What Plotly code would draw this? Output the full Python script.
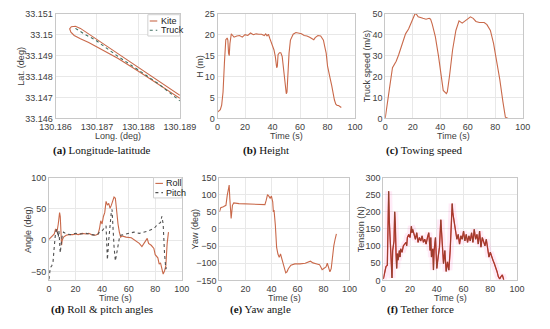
import plotly.graph_objects as go

# ---------------- data ----------------
kite_lon = [130.18900, 130.18850, 130.18800, 130.18750, 130.18710, 130.18690, 130.18675,
            130.18660, 130.18648, 130.18638, 130.18634, 130.18637, 130.18645, 130.18660,
            130.18680, 130.18710, 130.18750, 130.18800, 130.18850, 130.18900]
kite_lat = [33.14710, 33.14777, 33.14843, 33.14909, 33.14962, 33.14988, 33.15012,
            33.15030, 33.15040, 33.15038, 33.15028, 33.15012, 33.14996, 33.14980,
            33.14963, 33.14930, 33.14887, 33.14825, 33.14760, 33.14696]
truck_lon = [130.18648, 130.18658, 130.18672, 130.18695, 130.18750, 130.18800, 130.18850, 130.18900]
truck_lat = [33.15030, 33.15016, 33.15000, 33.14976, 33.14897, 33.14831, 33.14763, 33.14684]

lon_ticks = [130.186, 130.187, 130.188, 130.189]
lon_labels = ["130.186", "130.187", "130.188", "130.189"]
lat_ticks = [33.146, 33.147, 33.148, 33.149, 33.150, 33.151]
lat_labels = ["33.146", "33.147", "33.148", "33.149", "33.15", "33.151"]

h_t = [0, 2, 3, 4, 5, 5.5, 6, 7, 7.5, 8, 8.5, 9, 10, 11, 12, 14, 16, 18, 20, 22, 24, 26, 28, 30,
       32, 34, 35, 36, 37, 38, 39, 40, 41, 42, 43, 43.5, 44, 45, 46, 47, 48, 49, 50, 50.5, 51,
       52, 53, 55, 57, 59, 61, 63, 65, 67, 69, 70, 71, 73, 75, 77, 78, 79, 80, 81, 82, 83, 84,
       85, 86, 87, 88, 89, 90]
h_val = [1.5, 2.1, 3.2, 6.3, 13.3, 17.9, 18.8, 19.2, 18.7, 15.6, 15.0, 17.9, 20.2, 19.8, 19.4,
         19.7, 19.8, 19.4, 20.0, 19.8, 20.4, 20.0, 20.2, 20.1, 20.1, 19.8, 20.2, 19.7, 20.1, 19.1,
         18.3, 17.1, 16.4, 14.8, 12.1, 12.5, 15.2, 15.7, 15.7, 14.8, 11.7, 8.6, 5.9, 6.3, 10.2,
         15.6, 18.7, 20.1, 20.5, 20.4, 20.2, 19.8, 19.7, 19.4, 19.1, 18.8, 19.3, 19.8, 19.7,
         18.7, 17.1, 15.6, 12.5, 10.6, 9.4, 7.9, 5.9, 4.4, 3.4, 3.1, 3.1, 2.8, 2.6]

v_t = [0, 1.5, 3.4, 5.3, 8, 9.8, 12.6, 14.8, 17, 19, 20.5, 21.7, 22.8, 24, 27.4, 29.7, 32, 33,
       34.2, 36.5, 38.8, 41, 42.2, 44.5, 45.2, 46.8, 49, 51.4, 53.7, 56, 58, 60.5, 62, 64, 66,
       68.5, 72, 74, 76.5, 78.8, 81, 83.3, 85.6, 87.4, 89.5]
v_val = [0, 8, 15.7, 24.2, 27.3, 30.4, 35.8, 40.4, 42.7, 45.8, 48.9, 50, 49.7, 48.5, 47.8, 47.4,
         47.8, 47.4, 45, 38.9, 29.6, 20.4, 13.4, 11.9, 12.7, 20.4, 32.7, 42, 46.6, 45.5, 46.6,
         47.8, 48.5, 47.8, 46.3, 45.8, 45.8, 44.8, 42, 35.8, 28.1, 18.8, 8, 0.6, 0]

roll_t = [0, 2, 4, 5, 6, 7, 8, 8.5, 9, 9.5, 10, 11, 13, 15, 18, 20, 22, 25, 28, 30, 32, 35, 37,
          38, 39, 40, 41, 42, 43, 44, 45, 46, 47, 48, 49, 50, 51, 52, 53, 54, 55, 58, 62, 65, 68,
          70, 72, 74, 75, 77, 79, 80, 82, 83, 84, 85, 86, 87, 88, 89, 90]
roll_val = [1.5, 5, 10, 18, 13, 26, 44, 38, 5, -8, 0, 5, 8, 9, 9, 10, 9, 11, 10, 11, 9, 8, 10,
            18, 31, 26, 38, 44, 62, 56, 59, 51, 56, 64, 69, 67, 41, 26, 13, 5, 7, 5, 4, 0, -5,
            -10, -3, 3, -5, -8, -13, -23, -28, -38, -36, -46, -54, -49, -41, -5, 13]
pitch_t = [0, 1, 2, 3, 4, 5, 6, 7, 7.5, 8, 8.5, 9, 10, 11, 13, 16, 20, 24, 28, 32, 35, 37, 38,
           40, 42, 43, 43.5, 44, 45, 46, 47, 47.5, 48, 49, 50, 51, 52, 53, 54, 56, 60, 64, 68,
           72, 75, 78, 80, 82, 84, 85, 86, 87, 88, 89]
pitch_val = [-62, -44, -41, -36, -10, 13, 18, 5, 15, -15, -20, -10, 8, 13, 10, 9, 11, 10, 11, 9,
             8, 10, 13, 15, 21, 23, -5, -31, 0, 26, 46, 49, 26, -10, -33, -20, -5, 3, 8, 9, 11,
             13, 11, 13, 15, 18, 21, 26, 28, 38, 26, -20, -46, -41]

yaw_t = [0, 1, 3, 5, 6, 7, 7.5, 8, 9, 10, 11, 15, 20, 25, 30, 35, 36, 37, 38, 39, 40, 41, 41.5,
         42, 43, 44, 45, 46, 47, 48, 49, 50, 51, 52, 53, 55, 58, 62, 66, 70, 72, 75, 77, 78, 79,
         80, 82, 83, 84, 85, 86, 87, 88, 89, 90]
yaw_val = [50, 62, 65, 69, 98, 126, 128, 88, 31, 69, 76, 74, 73, 72, 70, 71, 84, 100, 96, 90, 96,
           79, 50, 55, 12, -54, -73, -83, -73, -87, -97, -111, -128, -125, -116, -106, -102,
           -102, -100, -94, -99, -102, -104, -111, -119, -116, -111, -100, -111, -125, -116, -73,
           -49, -30, -14]

ten_t = [0, 1, 2, 3, 3.5, 4, 4.5, 5, 5.5, 6, 6.5, 7, 7.5, 8, 8.5, 9, 9.5, 10, 10.5, 11, 12,
         12.5, 13, 14, 15, 16, 17, 17.5, 18, 19, 20, 21, 21.5, 22, 23, 24, 25, 26, 27, 28, 29,
         30, 31, 32, 33, 34, 35, 35.5, 36, 37, 37.5, 38, 39, 40, 41, 42, 43, 44, 45, 46, 47, 48,
         49, 50, 51, 51.5, 52, 53, 54, 55, 56, 57, 58, 59, 60, 61, 62, 63, 64, 65, 66, 67, 68,
         69, 70, 71, 72, 73, 74, 75, 76, 77, 78, 79, 80, 81, 82, 83, 84, 85, 86, 87, 88, 89, 90]
ten_val = [4, 26, 40, 44, 115, 260, 172, 125, 68, 40, 7, 87, 106, 115, 200, 163, 78, 35, 78, 59,
           87, 68, 92, 82, 101, 106, 111, 101, 125, 134, 125, 158, 139, 149, 130, 120, 139, 111,
           125, 115, 130, 111, 120, 106, 125, 139, 87, 125, 68, 92, 30, 87, 125, 35, 68, 97, 177,
           115, 49, 87, 26, 54, 30, 87, 200, 224, 196, 172, 153, 120, 134, 106, 130, 120, 144,
           115, 134, 111, 130, 115, 139, 111, 149, 120, 134, 106, 144, 97, 125, 115, 101, 120,
           92, 68, 82, 68, 59, 49, 40, 26, 11, 4, 11, 16, 2]

time_ticks = [0, 20, 40, 60, 80, 100]

# ---------------- styling ----------------
W, H = 550, 329
LINE = "#c9694a"
PITCH = "#505050"
TRUCK = "#3f6f60"
FONT = "Liberation Sans"
TICKC = "#404040"
GRID = "#e8e8e8"
FRAME = "#c8c8c8"

def px_dom(a, b):
    return [a / W, b / W]

def py_dom(top, bottom):
    return [1 - bottom / H, 1 - top / H]

panels = {
    1: dict(x=px_dom(42, 174), y=py_dom(9, 117)),
    2: dict(x=px_dom(214, 360), y=py_dom(9, 117)),
    3: dict(x=px_dom(392, 538), y=py_dom(9, 117)),
    4: dict(x=px_dom(35, 176), y=py_dom(178, 284)),
    5: dict(x=px_dom(216, 354), y=py_dom(178, 284)),
    6: dict(x=px_dom(390, 532), y=py_dom(178, 284)),
}

fig = go.Figure()

def ax(i):
    return ("x" if i == 1 else f"x{i}"), ("y" if i == 1 else f"y{i}")

fig.add_trace(go.Scatter(x=kite_lon, y=kite_lat, mode="lines", name="Kite",
                         line=dict(color=LINE, width=1.1), xaxis="x", yaxis="y"))
fig.add_trace(go.Scatter(x=truck_lon, y=truck_lat, mode="lines", name="Truck",
                         line=dict(color=TRUCK, width=1.1, dash="dot"), xaxis="x", yaxis="y"))
fig.add_trace(go.Scatter(x=h_t, y=h_val, mode="lines",
                         line=dict(color=LINE, width=1.1), xaxis="x2", yaxis="y2"))
fig.add_trace(go.Scatter(x=v_t, y=v_val, mode="lines",
                         line=dict(color=LINE, width=1.1), xaxis="x3", yaxis="y3"))
fig.add_trace(go.Scatter(x=roll_t, y=roll_val, mode="lines", name="Roll",
                         line=dict(color=LINE, width=1.1), xaxis="x4", yaxis="y4"))
fig.add_trace(go.Scatter(x=pitch_t, y=pitch_val, mode="lines", name="Pitch",
                         line=dict(color=PITCH, width=1.1, dash="dot"), xaxis="x4", yaxis="y4"))
fig.add_trace(go.Scatter(x=yaw_t, y=yaw_val, mode="lines",
                         line=dict(color=LINE, width=1.1), xaxis="x5", yaxis="y5"))
fig.add_trace(go.Scatter(x=ten_t, y=ten_val, mode="lines",
                         line=dict(color="rgba(255,120,200,0.15)", width=7), xaxis="x6", yaxis="y6"))
fig.add_trace(go.Scatter(x=ten_t, y=ten_val, mode="lines",
                         line=dict(color="#e02828", width=1.3), xaxis="x6", yaxis="y6"))
fig.add_trace(go.Scatter(x=ten_t, y=ten_val, mode="lines",
                         line=dict(color="#7a4a32", width=0.7), xaxis="x6", yaxis="y6"))

common = dict(showgrid=True, gridcolor=GRID, gridwidth=1, showline=True, linecolor=FRAME,
              linewidth=1, mirror=True, zeroline=False, ticks="",
              tickfont=dict(family=FONT, size=9, color=TICKC))

layout = dict(width=W, height=H, margin=dict(l=0, r=0, t=0, b=0),
              paper_bgcolor="white", plot_bgcolor="white", showlegend=False)

specs = {
    1: dict(xr=[130.186, 130.189], xt=lon_ticks, xl=lon_labels,
            yr=[33.146, 33.151], yt=lat_ticks, yl=lat_labels),
    2: dict(xr=[0, 100], xt=time_ticks, xl=None, yr=[0, 25], yt=[0, 5, 10, 15, 20, 25], yl=None),
    3: dict(xr=[0, 100], xt=time_ticks, xl=None, yr=[0, 50], yt=[0, 10, 20, 30, 40, 50], yl=None),
    4: dict(xr=[0, 100], xt=time_ticks, xl=None, yr=[-64, 100], yt=[-50, 0, 50, 100], yl=None),
    5: dict(xr=[0, 100], xt=time_ticks, xl=None, yr=[-150, 150],
            yt=[-150, -100, -50, 0, 50, 100, 150], yl=None),
    6: dict(xr=[0, 100], xt=time_ticks, xl=None, yr=[0, 300],
            yt=[0, 50, 100, 150, 200, 250, 300], yl=None),
}

for i, s in specs.items():
    xn = "xaxis" if i == 1 else f"xaxis{i}"
    yn = "yaxis" if i == 1 else f"yaxis{i}"
    xa, ya = ax(i)
    xd = dict(common, domain=panels[i]["x"], range=s["xr"], anchor=ya, tickvals=s["xt"])
    yd = dict(common, domain=panels[i]["y"], range=s["yr"], anchor=xa, tickvals=s["yt"])
    if s["xl"]:
        xd["ticktext"] = s["xl"]
    if s["yl"]:
        yd["ticktext"] = s["yl"]
    layout[xn] = xd
    layout[yn] = yd

fig.update_layout(**layout)

# compact legends (box, short line samples, labels) in paper coordinates
legends = [
    dict(box=(140, 10, 174, 32), items=[("Kite", LINE, "solid", 16.5), ("Truck", TRUCK, "dot", 26)]),
    dict(box=(146, 178, 176, 199), items=[("Roll", LINE, "solid", 184), ("Pitch", PITCH, "dot", 193.5)]),
]
for lg in legends:
    x0, y0, x1, y1 = lg["box"]
    fig.add_shape(type="rect", xref="paper", yref="paper", x0=x0 / W, x1=x1 / W,
                  y0=1 - y1 / H, y1=1 - y0 / H, fillcolor="white",
                  line=dict(color="#d0d0d0", width=1), layer="above")
    for name, col, dash, yy in lg["items"]:
        fig.add_shape(type="line", xref="paper", yref="paper", x0=(x0 + 2) / W, x1=(x0 + 10) / W,
                      y0=1 - yy / H, y1=1 - yy / H, line=dict(color=col, width=1.1, dash=dash),
                      layer="above")
        fig.add_annotation(text=name, xref="paper", yref="paper", x=(x0 + 11.5) / W, y=1 - yy / H,
                           xanchor="left", yanchor="middle", showarrow=False,
                           font=dict(family=FONT, size=9, color="#222"))

# axis titles
xtitles = {1: "Long. (deg)", 2: "Time (s)", 3: "Time (s)", 4: "Time (s)", 5: "Time (s)", 6: "Time (s)"}
ytitles = {1: ("Lat. (deg)", 34), 2: ("H (m)", 17), 3: ("Truck speed (m/s)", 18),
           4: ("Angle (deg)", 21), 5: ("Yaw (deg)", 24), 6: ("Tension (N)", 22)}
for i in range(1, 7):
    xa, ya = ax(i)
    fig.add_annotation(text=xtitles[i], xref=f"{xa} domain", yref=f"{ya} domain", x=0.5, y=0,
                       yanchor="middle", yshift=-18, showarrow=False,
                       font=dict(family=FONT, size=9, color=TICKC))
    t, off = ytitles[i]
    fig.add_annotation(text=t, xref=f"{xa} domain", yref=f"{ya} domain", x=0, y=0.5,
                       xanchor="center", xshift=-off, textangle=-90, showarrow=False,
                       font=dict(family=FONT, size=9, color=TICKC))

# captions
captions = [("a", "Longitude-latitude", 91, 150), ("b", "Height", 265, 150),
            ("c", "Towing speed", 434, 150), ("d", "Roll &amp; pitch angles", 91, 314),
            ("e", "Yaw angle", 260, 314), ("f", "Tether force", 429, 314)]
for letter, txt, cx, cy in captions:
    fig.add_annotation(text=f"<b>({letter})</b> {txt}", xref="paper", yref="paper",
                       x=cx / W, y=1 - cy / H, xanchor="center", yanchor="middle",
                       showarrow=False, font=dict(family="Liberation Serif", size=11, color="#111"))

fig.write_html("out.html", config={"displayModeBar": False},
               post_script="document.body.style.margin='0px';")
